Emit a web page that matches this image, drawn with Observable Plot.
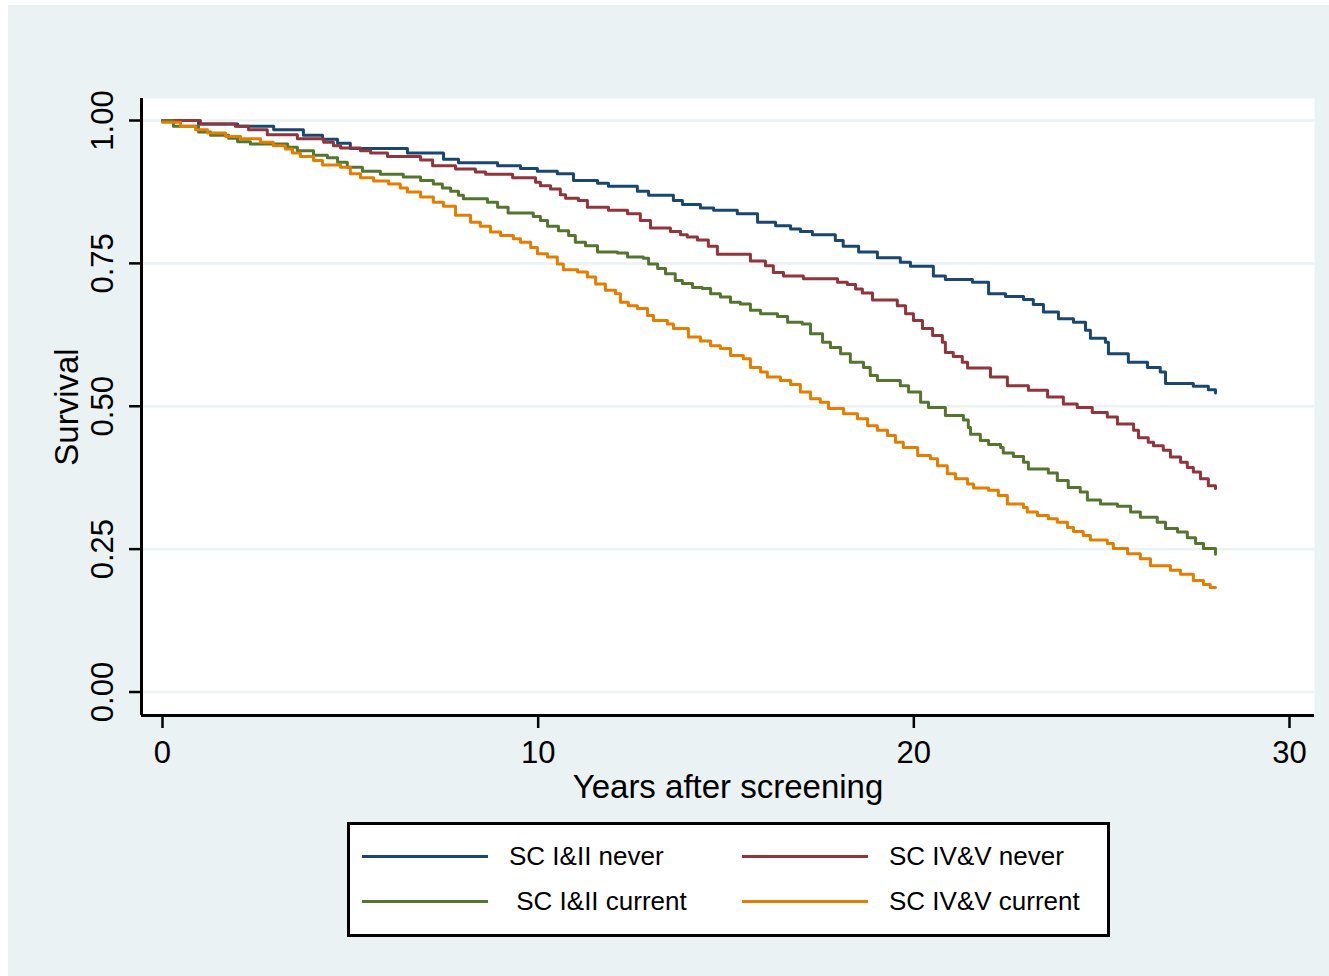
<!DOCTYPE html>
<html>
<head>
<meta charset="utf-8">
<script src="https://cdn.jsdelivr.net/npm/d3@7"></script>
<script src="https://cdn.jsdelivr.net/npm/@observablehq/plot@0.6"></script>
<style>
html,body{margin:0;padding:0;background:#fff;}
#page{position:relative;width:1329px;height:976px;overflow:hidden;font-family:"Liberation Sans",Arial,Helvetica,sans-serif;}
#bg{position:absolute;left:8px;top:5px;right:0;bottom:0;background:#EAF2F3;}
#chart{position:absolute;left:0;top:0;}
#legend{position:absolute;left:347px;top:822px;width:763px;height:115px;box-sizing:border-box;border:3px solid #000;background:#fff;}
.item{position:absolute;height:0;}
.item .swatch{position:absolute;left:0;top:-1.5px;width:126px;height:3px;}
.item .lab{position:absolute;left:147px;top:0;transform:translateY(-50%);font-size:26px;white-space:pre;line-height:1;color:#000;}
</style>
</head>
<body>
<div id="page">
  <div id="bg"></div>
  <div id="chart"></div>
  <div id="legend"></div>
</div>
<script>
// ---- data ----
const seriesNames = ["SC I&II never", "SC IV&V never", "SC I&II current", "SC IV&V current"];
const seriesColors = ["#1a476f", "#90353b", "#55752f", "#e37e00"];
const legendLabels = ["SC I&II never", "SC IV&V never", " SC I&II current", "SC IV&V current"];

const yTicks = [0, 0.25, 0.5, 0.75, 1];
const xTicks = [0, 10, 20, 30];

const tI_II_never = [0,0.96,2.0,2.96,3.75,4.26,4.66,5.0,6.52,7.48,7.88,8.92,9.53,9.98,10.51,10.94,11.58,11.87,12.64,12.94,13.6,13.84,14.32,14.67,15.3,15.84,16.32,16.72,16.98,17.3,17.91,18.12,18.53,19.03,19.64,19.91,20.52,20.84,21.56,21.99,22.44,22.92,23.18,23.45,23.85,24.25,24.57,24.7,25.1,25.18,25.71,26.22,26.56,26.7,27.44,27.84,28.03];
const sI_II_never = [1,0.994,0.99,0.984,0.974,0.967,0.96,0.951,0.943,0.932,0.926,0.921,0.916,0.911,0.907,0.895,0.890,0.885,0.876,0.869,0.86,0.853,0.847,0.843,0.837,0.822,0.816,0.81,0.806,0.80,0.79,0.78,0.77,0.76,0.752,0.745,0.728,0.722,0.717,0.697,0.692,0.687,0.678,0.665,0.653,0.647,0.633,0.619,0.612,0.592,0.577,0.568,0.56,0.54,0.535,0.529,0.523];

const tIV_V_never = [0,1.01,1.94,2.29,2.79,3.59,4.29,4.55,4.74,5.27,5.54,5.99,6.87,7.19,7.8,8.33,8.6,9.32,9.93,10.06,10.33,10.59,10.73,11.07,11.31,11.87,12.38,12.72,12.99,13.52,13.79,13.97,14.24,14.53,14.77,15.65,16.05,16.26,16.53,17.06,17.97,18.23,18.45,18.63,18.9,19.56,19.78,19.99,20.23,20.5,20.76,20.84,21.05,21.29,21.43,22.04,22.49,23.05,23.56,23.98,24.35,24.75,25.15,25.42,25.85,25.98,26.24,26.38,26.64,26.83,27.1,27.28,27.44,27.63,27.84,28.03];
const sIV_V_never = [1,0.994,0.99,0.984,0.975,0.968,0.962,0.956,0.952,0.947,0.943,0.937,0.931,0.921,0.915,0.91,0.906,0.90,0.892,0.886,0.88,0.87,0.864,0.86,0.848,0.843,0.837,0.825,0.812,0.806,0.80,0.796,0.791,0.78,0.766,0.754,0.746,0.734,0.728,0.723,0.717,0.713,0.705,0.698,0.686,0.676,0.662,0.65,0.636,0.624,0.612,0.594,0.587,0.577,0.567,0.551,0.536,0.528,0.516,0.504,0.498,0.489,0.481,0.469,0.458,0.445,0.437,0.431,0.423,0.411,0.402,0.393,0.385,0.373,0.361,0.356];

const tI_II_current = [0,0.29,0.96,1.28,1.76,2.0,2.34,3.33,3.59,4.02,4.39,4.66,4.92,5.32,5.8,6.41,6.87,7.21,7.45,7.67,7.88,8.01,8.65,8.92,9.2,9.87,10.06,10.25,10.54,10.81,10.99,11.26,11.58,12.11,12.38,12.8,12.94,13.18,13.39,13.65,13.84,14.11,14.37,14.59,14.85,15.12,15.38,15.65,15.92,16.37,16.64,17.03,17.25,17.57,17.78,18.05,18.31,18.66,18.84,19.03,19.64,19.86,20.18,20.39,20.84,21.32,21.45,21.51,21.77,21.99,22.31,22.38,22.65,22.92,23.05,23.58,23.82,24.11,24.43,24.62,24.97,25.42,25.77,26.03,26.48,26.7,27.02,27.28,27.5,27.71,28.03];
const sI_II_current = [1,0.99,0.98,0.974,0.969,0.963,0.959,0.953,0.947,0.939,0.935,0.927,0.918,0.911,0.906,0.901,0.895,0.889,0.882,0.876,0.869,0.863,0.857,0.848,0.838,0.832,0.825,0.815,0.807,0.799,0.787,0.781,0.77,0.768,0.761,0.759,0.749,0.741,0.732,0.72,0.715,0.708,0.706,0.697,0.691,0.682,0.679,0.668,0.662,0.657,0.647,0.644,0.627,0.612,0.603,0.592,0.577,0.568,0.554,0.545,0.536,0.525,0.507,0.498,0.484,0.476,0.463,0.451,0.44,0.433,0.428,0.418,0.412,0.402,0.39,0.383,0.37,0.358,0.35,0.336,0.329,0.325,0.315,0.306,0.297,0.286,0.28,0.27,0.26,0.251,0.241];

const tIV_V_current = [0,0.48,0.88,1.2,1.68,2.08,2.61,2.95,3.27,3.46,3.67,4.02,4.26,4.74,5.0,5.27,5.62,6.02,6.33,6.52,6.87,7.21,7.48,7.8,8.2,8.46,8.73,9.0,9.34,9.53,9.8,9.98,10.25,10.51,10.67,11.05,11.31,11.53,11.79,12.06,12.19,12.4,12.64,12.91,13.07,13.44,13.6,14.0,14.32,14.59,14.85,15.12,15.46,15.65,15.92,16.1,16.45,16.72,16.98,17.25,17.51,17.73,18.13,18.5,18.77,19.03,19.3,19.51,19.72,20.1,20.44,20.63,20.89,21.11,21.43,21.59,21.99,22.25,22.49,22.92,23.02,23.29,23.58,23.82,24.09,24.25,24.51,24.7,25.15,25.31,25.69,26.03,26.3,26.83,27.1,27.44,27.71,27.89,28.03];
const sIV_V_current = [0.997,0.99,0.984,0.978,0.972,0.968,0.962,0.956,0.95,0.943,0.937,0.93,0.922,0.918,0.907,0.90,0.894,0.889,0.882,0.875,0.866,0.857,0.85,0.834,0.822,0.815,0.805,0.799,0.793,0.787,0.778,0.767,0.761,0.749,0.739,0.735,0.726,0.714,0.703,0.697,0.682,0.676,0.671,0.659,0.65,0.644,0.636,0.621,0.614,0.606,0.601,0.589,0.583,0.568,0.56,0.551,0.545,0.538,0.525,0.513,0.507,0.496,0.487,0.478,0.466,0.458,0.449,0.437,0.428,0.414,0.408,0.396,0.382,0.373,0.364,0.357,0.353,0.344,0.329,0.323,0.315,0.309,0.303,0.297,0.288,0.281,0.274,0.266,0.26,0.251,0.242,0.233,0.221,0.213,0.206,0.195,0.188,0.183,0.183];

// ---- build table ----
const times = [tI_II_never, tIV_V_never, tI_II_current, tIV_V_current];
const survs = [sI_II_never, sIV_V_never, sI_II_current, sIV_V_current];
const rows = [];
seriesNames.forEach((name, k) => {
  times[k].forEach((t, i) => rows.push({group: name, t, s: survs[k][i]}));
});

const xDomain = [-0.559, 30.6655];
const yDomain = [-0.0411, 1.0385];
const font = "'Liberation Sans', Arial, Helvetica, sans-serif";

const chart = Plot.plot({
  width: 1329,
  height: 812,
  marginLeft: 141,
  marginRight: 15,
  marginTop: 98,
  marginBottom: 97,
  style: {background: "transparent", fontFamily: font, overflow: "visible", color: "#000"},
  x: {domain: xDomain},
  y: {domain: yDomain},
  color: {domain: seriesNames, range: seriesColors},
  marks: [
    Plot.frame({fill: "white", stroke: null}),
    Plot.gridY(yTicks, {stroke: "#EAF2F3", strokeOpacity: 1, strokeWidth: 2.5}),
    Plot.line(rows, {x: "t", y: "s", z: "group", stroke: "group", curve: "step-after", strokeWidth: 3}),
    Plot.ruleX([xDomain[0]], {stroke: "#000", strokeWidth: 3}),
    Plot.ruleY([yDomain[0]], {stroke: "#000", strokeWidth: 3}),
    Plot.axisY(yTicks, {tickSize: 12, tickPadding: 17, tickRotate: -90, tickFormat: d3.format(".2f"), fontSize: 31, strokeWidth: 2.5, label: null}),
    Plot.axisX(xTicks, {tickSize: 13, tickPadding: 12, fontSize: 31, strokeWidth: 2.5, label: null}),
    Plot.text(["Survival"], {frameAnchor: "left", dx: -64, rotate: -90, fontSize: 33, textAnchor: "middle", lineAnchor: "bottom"}),
    Plot.text(["Years after screening"], {frameAnchor: "bottom", dy: 82, fontSize: 33, textAnchor: "middle", lineAnchor: "bottom"})
  ]
});
document.getElementById("chart").appendChild(chart);

// ---- legend ----
const legend = document.getElementById("legend");
const pos = [[12, 31], [392, 31], [12, 76], [392, 76]];
seriesNames.forEach((name, k) => {
  const it = document.createElement("div");
  it.className = "item";
  it.style.left = pos[k][0] + "px";
  it.style.top = pos[k][1] + "px";
  const sw = document.createElement("div");
  sw.className = "swatch";
  sw.style.background = seriesColors[k];
  const lb = document.createElement("div");
  lb.className = "lab";
  lb.textContent = legendLabels[k];
  it.appendChild(sw);
  it.appendChild(lb);
  legend.appendChild(it);
});
</script>
</body>
</html>
